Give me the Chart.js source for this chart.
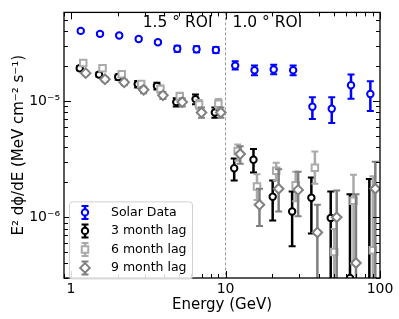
<!DOCTYPE html>
<html><head><meta charset="utf-8">
<script src="https://cdn.jsdelivr.net/npm/chart.js@4.4.1/dist/chart.umd.min.js"></script>
<style>html,body{margin:0;padding:0;background:#fff;}</style>
</head><body>
<canvas id="c" width="399" height="319"></canvas>
<script>
// ---- data ----
const energies = [1.155, 1.54, 2.05, 2.74, 3.65, 4.87, 6.49, 8.66,
                  11.55, 15.4, 20.5, 27.4, 36.5, 48.7, 64.9, 86.6];

const solarFlux = [4.02e-5, 3.79e-5, 3.67e-5, 3.42e-5, 3.21e-5, 2.82e-5, 2.79e-5, 2.75e-5,
                   2.02e-5, 1.84e-5, 1.87e-5, 1.84e-5, 8.94e-6, 8.6e-6, 1.37e-5, 1.15e-5];
const solarLo   = [3.9e-5, 3.68e-5, 3.56e-5, 3.32e-5, 3.11e-5, 2.66e-5, 2.63e-5, 2.59e-5,
                   1.87e-5, 1.67e-5, 1.7e-5, 1.67e-5, 7.0e-6, 6.48e-6, 1.05e-5, 8.2e-6];
const solarHi   = [4.14e-5, 3.9e-5, 3.78e-5, 3.52e-5, 3.31e-5, 2.99e-5, 2.96e-5, 2.92e-5,
                   2.2e-5, 2.02e-5, 2.05e-5, 2.02e-5, 1.08e-5, 1.08e-5, 1.69e-5, 1.48e-5];

const lag3Flux = [1.92e-5, 1.69e-5, 1.61e-5, 1.40e-5, 1.35e-5, 9.8e-6, 1.04e-5, 7.97e-6,
                  2.64e-6, 3.13e-6, 1.5e-6, 1.12e-6, 1.47e-6, 9.87e-7, 3.0e-7, 2e-7];
const lag3Lo   = [1.84e-5, 1.62e-5, 1.53e-5, 1.31e-5, 1.26e-5, 9.0e-6, 9.4e-6, 7.2e-6,
                  2.07e-6, 2.43e-6, 9.38e-7, 5.64e-7, 7.25e-7, 1e-8, 1e-8, 1e-8];
const lag3Hi   = [2.0e-5, 1.76e-5, 1.69e-5, 1.49e-5, 1.44e-5, 1.06e-5, 1.14e-5, 8.8e-6,
                  3.2e-6, 3.87e-6, 2.07e-6, 1.67e-6, 2.2e-6, 1.67e-6, 1.58e-6, 2.13e-6];

const lag6Flux = [2.13e-5, 1.92e-5, 1.70e-5, 1.40e-5, 1.27e-5, 1.10e-5, 9.35e-6, 9.5e-6,
                  3.71e-6, 1.84e-6, 2.51e-6, 1.89e-6, 2.67e-6, 5.03e-7, 1.39e-6, 5.2e-7];
const lag6Lo   = [2.04e-5, 1.84e-5, 1.62e-5, 1.32e-5, 1.18e-5, 1.02e-5, 8.5e-6, 8.6e-6,
                  3.06e-6, 1.41e-6, 2.07e-6, 1.37e-6, 1.94e-6, 1e-8, 4e-7, 1e-8];
const lag6Hi   = [2.22e-5, 2.0e-5, 1.78e-5, 1.48e-5, 1.36e-5, 1.18e-5, 1.02e-5, 1.04e-5,
                  4.24e-6, 2.35e-6, 2.94e-6, 2.47e-6, 3.69e-6, 7.94e-7, 2.32e-6, 2.25e-6];

const lag9Flux = [1.74e-5, 1.54e-5, 1.45e-5, 1.25e-5, 1.12e-5, 9.8e-6, 7.97e-6, 7.97e-6,
                  3.5e-6, 1.28e-6, 1.76e-6, 1.72e-6, 7.4e-7, 1.0e-6, 4.04e-7, 1.76e-6];
const lag9Lo   = [1.67e-5, 1.47e-5, 1.37e-5, 1.17e-5, 1.04e-5, 9.0e-6, 7.2e-6, 7.2e-6,
                  2.89e-6, 8.4e-7, 1.12e-6, 1.02e-6, 1e-8, 1e-8, 1e-8, 1e-8];
const lag9Hi   = [1.81e-5, 1.61e-5, 1.53e-5, 1.33e-5, 1.2e-5, 1.06e-5, 8.8e-6, 8.8e-6,
                  4.08e-6, 1.76e-6, 2.59e-6, 2.46e-6, 1.28e-6, 1.7e-6, 1.58e-6, 3.0e-6];

const seriesNames = ['Solar Data', '3 month lag', '6 month lag', '9 month lag'];
const xTickValues = [1, 10, 100];
const yTickValues = [1e-6, 1e-5];
const yTickLabels = ['10\u207B\u2076', '10\u207B\u2075'];
const roiLabels = ['1.5 \u00B0 ROI', '1.0 \u00B0 ROI'];
const roiBoundary = 10;

// ---- styling ----
const FONT = "'DejaVu Sans', sans-serif";
const colors = ['#0000ff', '#000000', '#aaaaaa', '#808080'];
const styles = ['circle', 'circle', 'rect', 'rectRot'];
const radii = [3.2, 3.2, 4.6, 4.8];
const shifts = [1.0, 0.985, 1.038, 1.077];
const drawOrder = [4, 3, 2, 1];
const fluxes = [solarFlux, lag3Flux, lag6Flux, lag9Flux];
const los = [solarLo, lag3Lo, lag6Lo, lag9Lo];
const his = [solarHi, lag3Hi, lag6Hi, lag9Hi];

const datasets = seriesNames.map((name, k) => ({
  label: name,
  data: energies.map((e, i) => ({x: e * shifts[k], y: fluxes[k][i]})),
  errLo: los[k], errHi: his[k],
  pointStyle: styles[k],
  pointRadius: radii[k],
  pointHoverRadius: radii[k],
  pointBackgroundColor: '#ffffff',
  pointBorderColor: colors[k],
  pointBorderWidth: 2,
  showLine: false,
  order: drawOrder[k],
  clip: 0
}));

function drawErrIcon(ctx, x, y, k, half) {
  ctx.strokeStyle = colors[k];
  ctx.lineWidth = 2.5;
  ctx.beginPath(); ctx.moveTo(x, y - half); ctx.lineTo(x, y + half); ctx.stroke();
  ctx.lineWidth = 2;
  ctx.beginPath();
  ctx.moveTo(x - 3.5, y - half); ctx.lineTo(x + 3.5, y - half);
  ctx.moveTo(x - 3.5, y + half); ctx.lineTo(x + 3.5, y + half);
  ctx.stroke();
  Chart.helpers.drawPoint(ctx, {pointStyle: styles[k], radius: radii[k], borderWidth: 2}, x, y);
}

const errorBars = {
  id: 'errorBars',
  beforeDatasetDraw(chart, args) {
    const ds = chart.data.datasets[args.index];
    const ctx = chart.ctx, ca = chart.chartArea, ys = chart.scales.y;
    ctx.save();
    ctx.beginPath(); ctx.rect(ca.left, ca.top, ca.right - ca.left, ca.bottom - ca.top); ctx.clip();
    ctx.strokeStyle = ds.pointBorderColor;
    args.meta.data.forEach((el, i) => {
      const x = el.x;
      const yl = ys.getPixelForValue(ds.errLo[i]);
      const yh = ys.getPixelForValue(ds.errHi[i]);
      ctx.lineWidth = 2.5;
      ctx.beginPath(); ctx.moveTo(x, yl); ctx.lineTo(x, yh); ctx.stroke();
      ctx.lineWidth = 2;
      ctx.beginPath();
      ctx.moveTo(x - 3.5, yl); ctx.lineTo(x + 3.5, yl);
      ctx.moveTo(x - 3.5, yh); ctx.lineTo(x + 3.5, yh);
      ctx.stroke();
    });
    ctx.restore();
  }
};

const decor = {
  id: 'decor',
  beforeDatasetsDraw(chart) {
    const ctx = chart.ctx, ca = chart.chartArea, xs = chart.scales.x;
    const px = xs.getPixelForValue(roiBoundary);
    ctx.save();
    ctx.strokeStyle = '#999999'; ctx.lineWidth = 1; ctx.setLineDash([3, 2]);
    ctx.beginPath(); ctx.moveTo(px, ca.top); ctx.lineTo(px, ca.bottom); ctx.stroke();
    ctx.restore();
  },
  afterDraw(chart) {
    const ctx = chart.ctx, ca = chart.chartArea, xs = chart.scales.x, ys = chart.scales.y;
    ctx.save();
    // ticks inside on all sides
    ctx.strokeStyle = '#000'; ctx.lineWidth = 1;
    const inRange = (v, s) => v >= s.min * 0.999 && v <= s.max * 1.001;
    ctx.beginPath();
    for (let k = -1; k <= 2; k++) {
      for (let m = 1; m <= 9; m++) {
        const v = m * Math.pow(10, k);
        if (!inRange(v, xs)) continue;
        const p = Math.round(xs.getPixelForValue(v)) + 0.5;
        const L = m === 1 ? 7 : 4;
        ctx.moveTo(p, ca.bottom); ctx.lineTo(p, ca.bottom - L);
        ctx.moveTo(p, ca.top); ctx.lineTo(p, ca.top + L);
      }
    }
    for (let k = -8; k <= -4; k++) {
      for (let m = 1; m <= 9; m++) {
        const v = m * Math.pow(10, k);
        if (!inRange(v, ys)) continue;
        const p = Math.round(ys.getPixelForValue(v)) + 0.5;
        const L = m === 1 ? 7 : 4;
        ctx.moveTo(ca.left, p); ctx.lineTo(ca.left + L, p);
        ctx.moveTo(ca.right, p); ctx.lineTo(ca.right - L, p);
      }
    }
    ctx.stroke();
    // frame
    ctx.lineWidth = 1.3;
    ctx.strokeRect(ca.left, ca.top, ca.right - ca.left, ca.bottom - ca.top);
    // ROI labels
    const px = xs.getPixelForValue(roiBoundary);
    ctx.fillStyle = '#000';
    ctx.font = '15.5px ' + FONT;
    ctx.textBaseline = 'middle';
    ctx.textAlign = 'right';
    ctx.fillText(roiLabels[0], px - 13, ca.top + 11);
    ctx.textAlign = 'left';
    ctx.fillText(roiLabels[1], px + 7, ca.top + 11);
    // legend
    const lx = ca.left + 5, ly = ca.top + 189, lw = 123, lh = 77;
    ctx.fillStyle = 'rgba(255,255,255,0.85)';
    ctx.strokeStyle = '#d0d0d0'; ctx.lineWidth = 1;
    ctx.beginPath();
    if (ctx.roundRect) ctx.roundRect(lx + 0.5, ly + 0.5, lw, lh, 3); else ctx.rect(lx + 0.5, ly + 0.5, lw, lh);
    ctx.fill(); ctx.stroke();
    ctx.font = '12.5px ' + FONT;
    ctx.textAlign = 'left'; ctx.textBaseline = 'middle';
    seriesNames.forEach((name, k) => {
      const y = ly + 11 + k * 18.5;
      ctx.save();
      ctx.fillStyle = '#ffffff';
      drawErrIcon(ctx, lx + 16, y, k, 6.5);
      ctx.restore();
      ctx.fillStyle = '#000';
      ctx.fillText(name, lx + 42, y);
    });
    ctx.restore();
  }
};

new Chart(document.getElementById('c'), {
  type: 'scatter',
  data: { datasets },
  options: {
    responsive: false,
    animation: false,
    devicePixelRatio: 1,
    layout: { padding: { top: 5, right: 19, left: 0, bottom: 0 } },
    plugins: { legend: { display: false }, tooltip: { enabled: false } },
    scales: {
      x: {
        type: 'logarithmic', min: 0.9, max: 100, position: 'bottom',
        grid: { display: false, drawTicks: false }, border: { display: false },
        afterBuildTicks: s => { s.ticks = xTickValues.map(v => ({value: v})); },
        afterFit: s => { s.height = 41; },
        ticks: { color: '#000', font: { family: FONT, size: 14 }, padding: 3, maxRotation: 0, autoSkip: false,
                 callback: v => String(v) },
        title: { display: true, text: 'Energy (GeV)', color: '#000', font: { family: FONT, size: 15 }, padding: { top: 0, bottom: 5 } }
      },
      y: {
        type: 'logarithmic', min: 3e-7, max: 5.8e-5, position: 'left',
        grid: { display: false, drawTicks: false }, border: { display: false },
        afterBuildTicks: s => { s.ticks = yTickValues.map(v => ({value: v})); },
        afterFit: s => { s.width = 64; },
        ticks: { color: '#000', font: { family: FONT, size: 14 }, padding: 4, autoSkip: false,
                 callback: (v) => { const i = yTickValues.findIndex(t => Math.abs(t - v) / t < 1e-6); return i >= 0 ? yTickLabels[i] : ''; } },
        title: { display: true, text: 'E\u00B2 d\u03D5/dE (MeV cm\u207B\u00B2 s\u207B\u00B9)', color: '#000', font: { family: FONT, size: 15 }, padding: { top: 10, bottom: 0 } }
      }
    }
  },
  plugins: [errorBars, decor]
});
</script>
</body></html>
